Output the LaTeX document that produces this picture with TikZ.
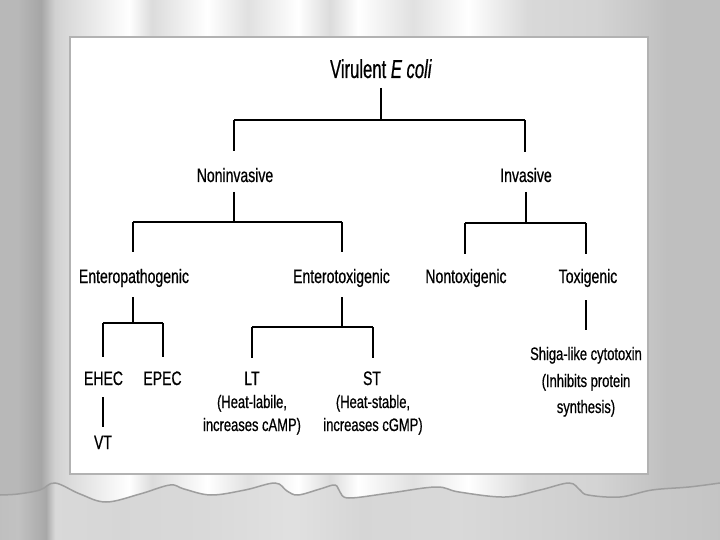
\documentclass[tikz,border=0pt]{standalone}
\usepackage{fontspec}
\setmainfont{Liberation Sans}[FakeStretch=0.72,FakeBold=0.6]
\newfontfamily\rootfont{Liberation Sans}[FakeStretch=0.64,FakeBold=0.6]
\pgfdeclarehorizontalshading{curtaintop}{100bp}{color(0bp)=(black!28); color(25bp)=(black!28); color(26.25bp)=(black!28); color(27.85bp)=(black!35); color(28.82bp)=(black!18); color(29.86bp)=(black!14); color(33.96bp)=(white); color(35.56bp)=(black!14); color(39.38bp)=(white); color(42.22bp)=(black!12); color(45.69bp)=(white); color(47.92bp)=(black!14); color(49.86bp)=(white); color(53.68bp)=(black!12); color(57.5bp)=(white); color(61.67bp)=(black!15); color(66.46bp)=(black!17); color(69.65bp)=(black!22); color(71.25bp)=(black!25); color(75bp)=(black!25); color(100bp)=(black!25)}
\pgfdeclarehorizontalshading{curtainbot}{100bp}{color(0bp)=(black!25); color(25bp)=(black!25); color(26.25bp)=(black!24); color(28.2bp)=(black!34); color(28.82bp)=(black!15); color(33.3bp)=(black!16); color(38.9bp)=(black!15); color(45.4bp)=(black!12); color(50bp)=(black!16); color(56.9bp)=(black!15); color(63.9bp)=(black!18); color(69.4bp)=(black!21); color(75bp)=(black!23); color(100bp)=(black!23)}
\begin{document}
\begin{tikzpicture}[x=1pt,y=-1pt,
  vln/.style={black,line width=1.1pt},
  hln/.style={black,line width=2pt},
  rootlbl/.style={inner sep=0pt,anchor=base,font=\rootfont\fontsize{26}{30}\selectfont},
  lbl/.style={inner sep=0pt,anchor=base,font=\fontsize{19.5}{22}\selectfont},
  sml/.style={inner sep=0pt,anchor=base,font=\fontsize{18}{22}\selectfont}]
\useasboundingbox (0,0) rectangle (720,540);
% curtain background
\shade[shading=curtaintop] (0,0) rectangle (720,540);
\shade[shading=curtainbot] plot[smooth,tension=0.6] coordinates {(0,495) (18,494) (40,490) (55,483) (80,494) (106,502) (140,494) (170,485) (184,489) (211,495) (245,490) (275,483) (287,491) (298,495) (320,489) (335,485) (340,492) (349,498) (390,493) (436,487) (459,492) (505,497) (540,490) (569,483) (580,490) (588,495) (620,497) (652,490) (689,487) (720,483)} -- (720,540) -- (0,540) -- cycle;
\draw[black!38,line width=1.5pt] plot[smooth,tension=0.6] coordinates {(0,495) (18,494) (40,490) (55,483) (80,494) (106,502) (140,494) (170,485) (184,489) (211,495) (245,490) (275,483) (287,491) (298,495) (320,489) (335,485) (340,492) (349,498) (390,493) (436,487) (459,492) (505,497) (540,490) (569,483) (580,490) (588,495) (620,497) (652,490) (689,487) (720,483)};
% panel
\draw[fill=white,draw=black!30,line width=2.5pt] (70,37) rectangle (648,474);

% labels
\node[rootlbl] (root) at (381,78) {Virulent \textit{E coli}};
\node[lbl] (nonin) at (235,182) {Noninvasive};
\node[lbl] (inv) at (526,182) {Invasive};
\node[lbl] (epath) at (134,283) {Enteropathogenic};
\node[lbl] (etox) at (341.5,283) {Enterotoxigenic};
\node[lbl] (ntox) at (466,283) {Nontoxigenic};
\node[lbl] (tox) at (588,283) {Toxigenic};
\node[lbl] (ehec) at (103.5,385) {EHEC};
\node[lbl] (epec) at (162.5,385) {EPEC};
\node[lbl] (vt) at (103,449) {VT};
\node[lbl] (lt) at (252,385) {LT};
\node[lbl] (st) at (372,385) {ST};
\node[sml] (lta) at (252,408) {(Heat-labile,};
\node[sml] (ltb) at (252,431) {increases cAMP)};
\node[sml] (sta) at (373,408) {(Heat-stable,};
\node[sml] (stb) at (373,431) {increases cGMP)};
\node[sml] (sha) at (586,360) {Shiga-like cytotoxin};
\node[sml] (shb) at (586,387) {(Inhibits protein};
\node[sml] (shc) at (586,413) {synthesis)};

% junction coordinates
\coordinate (rootS) at (381,88);
\coordinate (b1m) at (381,120);
\coordinate (b1l) at (234,120);
\coordinate (b1r) at (525,120);
\coordinate (noninN) at (234,151);
\coordinate (invN) at (525,152);
\coordinate (noninS) at (234,192);
\coordinate (b2m) at (234,222);
\coordinate (b2l) at (133,222);
\coordinate (b2r) at (342,222);
\coordinate (epathN) at (133,252);
\coordinate (etoxN) at (342,252);
\coordinate (invS) at (526,192);
\coordinate (b3m) at (526,223);
\coordinate (b3l) at (465,223);
\coordinate (b3r) at (586,223);
\coordinate (ntoxN) at (465,254);
\coordinate (toxN) at (586,254);
\coordinate (epathS) at (133,297);
\coordinate (b4m) at (133,323);
\coordinate (b4l) at (103,323);
\coordinate (b4r) at (163,323);
\coordinate (ehecN) at (103,357);
\coordinate (epecN) at (163,357);
\coordinate (ehecS) at (103,397);
\coordinate (vtN) at (103,427);
\coordinate (etoxS) at (342,297);
\coordinate (b5m) at (342,327);
\coordinate (b5l) at (252,327);
\coordinate (b5r) at (373,327);
\coordinate (ltN) at (252,358);
\coordinate (stN) at (373,358);
\coordinate (toxS) at (586,300);
\coordinate (shN) at (586,330);

% connectors
\draw[vln] (rootS) -- (b1m);
\draw[hln] (b1l) -- (b1r);
\draw[vln] (b1l) -- (noninN);
\draw[vln] (b1r) -- (invN);
\draw[vln] (noninS) -- (b2m);
\draw[hln] (b2l) -- (b2r);
\draw[vln] (b2l) -- (epathN);
\draw[vln] (b2r) -- (etoxN);
\draw[vln] (invS) -- (b3m);
\draw[hln] (b3l) -- (b3r);
\draw[vln] (b3l) -- (ntoxN);
\draw[vln] (b3r) -- (toxN);
\draw[vln] (epathS) -- (b4m);
\draw[hln] (b4l) -- (b4r);
\draw[vln] (b4l) -- (ehecN);
\draw[vln] (b4r) -- (epecN);
\draw[vln] (ehecS) -- (vtN);
\draw[vln] (etoxS) -- (b5m);
\draw[hln] (b5l) -- (b5r);
\draw[vln] (b5l) -- (ltN);
\draw[vln] (b5r) -- (stN);
\draw[vln] (toxS) -- (shN);
\end{tikzpicture}
\end{document}
